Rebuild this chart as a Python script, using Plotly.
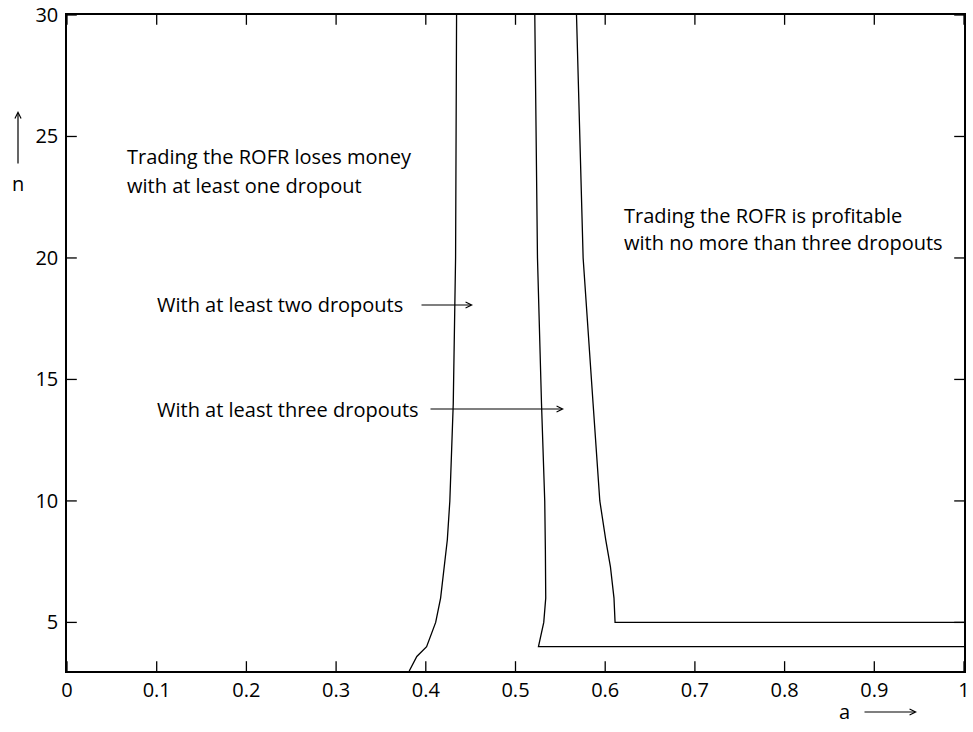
import plotly.graph_objects as go

# curve 1: at least one dropout boundary
c1_n = [3, 3.6, 4, 5, 6, 7.3, 8.4, 10, 14, 20, 30]
c1_a = [0.3815, 0.390, 0.4009, 0.411, 0.4165, 0.421, 0.424, 0.4268, 0.4306, 0.4332, 0.4343]
# curve 2: at least two dropouts
c2_n = [4, 4, 5, 6, 8, 10, 14, 20, 30]
c2_a = [1.0, 0.5256, 0.5315, 0.5337, 0.5333, 0.5326, 0.529, 0.5245, 0.5215]
# curve 3: at least three dropouts
c3_n = [5, 5, 6, 7.3, 8.4, 10, 14, 20, 30]
c3_a = [1.0, 0.611, 0.6098, 0.6058, 0.6006, 0.594, 0.5865, 0.5754, 0.568]

x_ticks = [0, 0.1, 0.2, 0.3, 0.4, 0.5, 0.6, 0.7, 0.8, 0.9, 1]
x_labels = ["0", "0.1", "0.2", "0.3", "0.4", "0.5", "0.6", "0.7", "0.8", "0.9", "1"]
y_ticks = [5, 10, 15, 20, 25, 30]
x_range = [0, 1]
y_range = [3, 30]

fig = go.Figure()
for a, n in [(c1_a, c1_n), (c2_a, c2_n), (c3_a, c3_n)]:
    fig.add_trace(go.Scatter(x=a, y=n, mode="lines",
                             line=dict(color="black", width=1.3),
                             showlegend=False, hoverinfo="skip"))

# inside tick marks (markers centred on the frame, outer half clipped)
tick_mark = dict(color="black", size=14, line=dict(color="black", width=1.3))
for yv in y_range:
    fig.add_trace(go.Scatter(x=x_ticks, y=[yv] * len(x_ticks), mode="markers",
                             marker=dict(symbol="line-ns", **tick_mark),
                             cliponaxis=True, showlegend=False, hoverinfo="skip"))
for xv in x_range:
    fig.add_trace(go.Scatter(x=[xv] * len(y_ticks), y=y_ticks, mode="markers",
                             marker=dict(symbol="line-ew", **tick_mark),
                             cliponaxis=True, showlegend=False, hoverinfo="skip"))

TF = "Open Sans"
tfont = dict(family=TF, size=20, color="black")

W, H = 897, 656  # plot area px
def px(xp): return (xp - 67) / W
def py(yp): return (671 - yp) / H

def txt(x, y, s):
    fig.add_annotation(xref="paper", yref="paper", x=px(x), y=py(y), text=s,
                       showarrow=False, xanchor="left", yanchor="middle",
                       align="left", font=tfont)

txt(125, 157, "Trading the ROFR loses money")
txt(125, 185, "with at least one dropout")
txt(622, 215, "Trading the ROFR is profitable")
txt(622, 243, "with no more than three dropouts")
txt(155, 305, "With at least two dropouts")
txt(155, 409, "With at least three dropouts")

def arrow(x0, y0, x1, y1):
    fig.add_annotation(xref="paper", yref="paper", axref="pixel", ayref="pixel",
                       x=px(x1), y=py(y1), ax=x0 - x1, ay=y0 - y1, text="",
                       showarrow=True, arrowhead=5, arrowsize=1, arrowwidth=1.2,
                       arrowcolor="black")

arrow(420, 305, 473, 305)
arrow(429, 409, 564, 409)
arrow(863, 712, 917, 712)
arrow(18, 165, 18, 111)

# axis labels
fig.add_annotation(xref="paper", yref="paper", x=px(844), y=py(711), text="a",
                   showarrow=False, xanchor="center", yanchor="middle", font=tfont)
fig.add_annotation(xref="paper", yref="paper", x=px(18), y=py(183), text="n",
                   showarrow=False, xanchor="center", yanchor="middle", font=tfont)

axis_common = dict(showgrid=False, zeroline=False, showline=True, linecolor="black",
                   linewidth=1.5, mirror=True, ticks="", tickfont=tfont,
                   automargin=False)
fig.update_layout(
    xaxis=dict(range=x_range, tickmode="array", tickvals=x_ticks, ticktext=x_labels,
               ticklabelstandoff=0, **axis_common),
    yaxis=dict(range=y_range, tickmode="array", tickvals=y_ticks,
               ticktext=[str(v) for v in y_ticks], ticklabelstandoff=3, **axis_common),
    width=973, height=732, margin=dict(l=67, r=9, t=15, b=61),
    plot_bgcolor="white", paper_bgcolor="white")
fig.write_html("out.html")
